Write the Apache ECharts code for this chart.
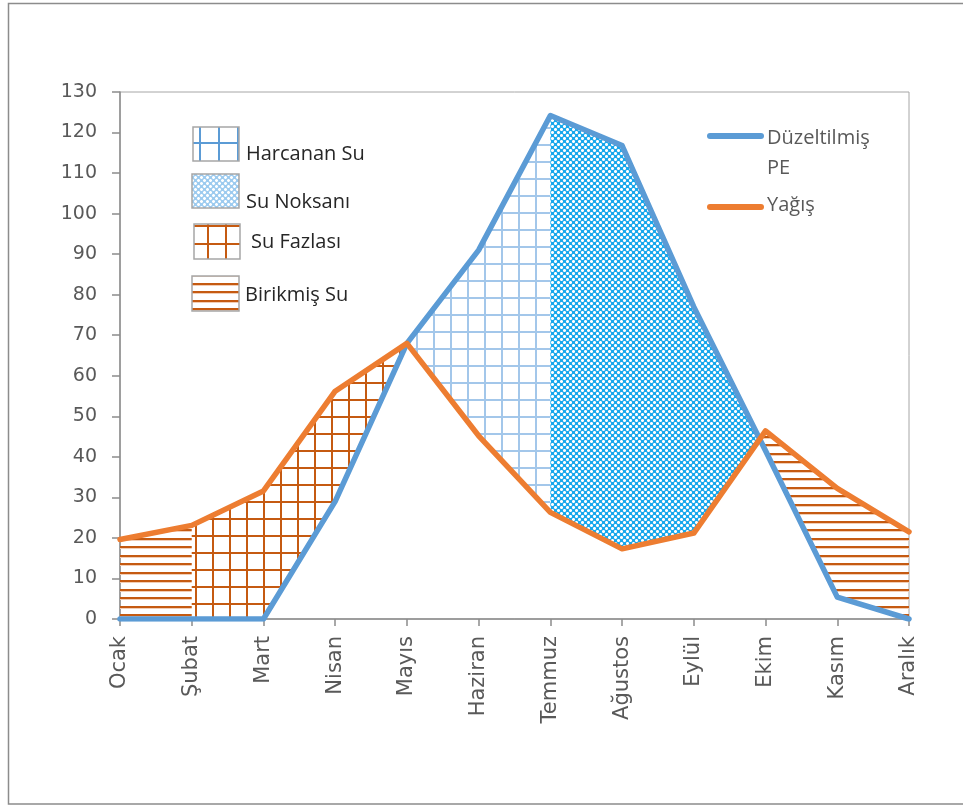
<!DOCTYPE html>
<html>
<head>
<meta charset="utf-8">
<script src="https://cdn.jsdelivr.net/npm/echarts@6/dist/echarts.min.js"></script>
<style>
  html, body { margin: 0; padding: 0; background: #fff; }
  #chart { width: 963px; height: 806px; }
</style>
</head>
<body>
<div id="chart"></div>
<script>
// Aylık su bilançosu: düzeltilmiş potansiyel evapotranspirasyon ve yağış (mm)
const aylar = ['Ocak', 'Şubat', 'Mart', 'Nisan', 'Mayıs', 'Haziran', 'Temmuz', 'Ağustos', 'Eylül', 'Ekim', 'Kasım', 'Aralık'];
const duzeltilmisPE = [0, 0, 0, 29, 68, 91, 124.2, 116.8, 77, 41.5, 5.4, 0];
const yagis = [19.6, 23.1, 31.6, 56.2, 68, 45.2, 26.3, 17.3, 21.2, 46.4, 32.2, 21.5];
const yEksenEtiketleri = [0, 10, 20, 30, 40, 50, 60, 70, 80, 90, 100, 110, 120, 130];

// Bölgeler: ay aralığı ve hangi eğrinin üstte kaldığı
const birikmisSuAraliklari = [[0, 1], [8, 11]];   // yağış > PE
const suFazlasiAraliklari = [[1, 4]];             // yağış > PE
const harcananSuAraliklari = [[4, 6]];            // PE > yağış
const suNoksaniAraliklari = [[6, 9]];             // PE > yağış

// ---- Desen dokuları ----
function tuval(w, h) {
  const c = document.createElement('canvas');
  c.width = w; c.height = h;
  return c;
}
function izgaraDeseni(adim, renk, kalinlik) {
  const c = tuval(adim, adim);
  const g = c.getContext('2d');
  g.fillStyle = renk;
  const o = Math.floor(adim / 2);
  g.fillRect(o, 0, kalinlik, adim);
  g.fillRect(0, o, adim, kalinlik);
  return c;
}
function yatayCizgiDeseni(renk, halo) {
  const c = tuval(4, 17);
  const g = c.getContext('2d');
  g.fillStyle = halo;
  g.fillRect(0, 4, 4, 1);
  g.fillRect(0, 13, 4, 1);
  g.fillStyle = renk;
  g.fillRect(0, 2, 4, 2);
  g.fillRect(0, 11, 4, 2);
  return c;
}
function noktaDeseni(koyu, acik) {
  const n = 6;
  const c = tuval(n, n);
  const g = c.getContext('2d');
  const merkezler = [[0, 0], [3, 3], [6, 0], [0, 6], [6, 6]];
  for (let y = 0; y < n; y++) {
    for (let x = 0; x < n; x++) {
      let renk = koyu;
      for (const [cx, cy] of merkezler) {
        const dx = Math.abs(x - cx), dy = Math.abs(y - cy);
        if (dx + dy <= 1) { renk = '#ffffff'; break; }
        if (dx === 1 && dy === 1) { renk = acik; }
      }
      g.fillStyle = renk;
      g.fillRect(x, y, 1, 1);
    }
  }
  return c;
}

const desenler = {
  harcanan: { image: izgaraDeseni(17, '#A3C7EA', 2), repeat: 'repeat' },
  noksan: { image: noktaDeseni('#17A8EC', '#A6DAF5'), repeat: 'repeat' },
  fazla: { image: izgaraDeseni(17, '#C55A11', 2), repeat: 'repeat' },
  birikmis: { image: yatayCizgiDeseni('#C55A11', '#F2CDB4'), repeat: 'repeat' }
};
const lejantDesenleri = {
  harcanan: { image: izgaraDeseni(19, '#5B9BD5', 2), repeat: 'repeat' },
  noksan: { image: noktaDeseni('#9DCBEF', '#CBE4F7'), repeat: 'repeat' },
  fazla: { image: izgaraDeseni(18, '#C55A11', 2), repeat: 'repeat' },
  birikmis: { image: yatayCizgiDeseni('#C55A11', '#F2CDB4'), repeat: 'repeat' }
};

// İki eğri arasında, üst eğrinin üstte kaldığı kısmı çokgen olarak çizer
function bolgeCiz(ust, alt, desen) {
  return function (params, api) {
    const s = api.value(0), e = api.value(1);
    const fark = i => ust[i] - alt[i];
    const xs = [];
    for (let i = s; i < e; i++) {
      const d0 = fark(i), d1 = fark(i + 1);
      if (d0 >= 0) xs.push(i);
      if ((d0 >= 0) !== (d1 >= 0) && d0 !== d1) xs.push(i + d0 / (d0 - d1));
    }
    if (fark(e) >= 0) xs.push(e);
    const deger = (arr, x) => {
      const i = Math.floor(x), f = x - i;
      return f ? arr[i] + (arr[i + 1] - arr[i]) * f : arr[i];
    };
    const nokta = (x, v) => {
      const i = Math.floor(x), f = x - i;
      const a = api.coord([i, v]);
      if (!f) return a;
      const b = api.coord([i + 1, v]);
      return [a[0] + (b[0] - a[0]) * f, a[1]];
    };
    const ustNoktalar = xs.map(x => nokta(x, deger(ust, x)));
    const altNoktalar = xs.map(x => nokta(x, deger(alt, x))).reverse();
    return {
      type: 'polygon',
      shape: { points: ustNoktalar.concat(altNoktalar) },
      style: { fill: desen, stroke: null }
    };
  };
}

function bolgeSerisi(ad, araliklar, ust, alt, desen) {
  return {
    name: ad,
    type: 'custom',
    coordinateSystem: 'cartesian2d',
    z: 1,
    silent: true,
    renderItem: bolgeCiz(ust, alt, desen),
    encode: { x: [0, 1] },
    data: araliklar
  };
}

const eksenRengi = '#8C8C8C';
const etiketRengi = '#595959';
const lejantYazi = { fontFamily: 'Open Sans', fontSize: 20, fill: '#262626', textVerticalAlign: 'middle' };
const lejantYazi2 = { fontFamily: 'Open Sans', fontSize: 20, fill: '#595959', textVerticalAlign: 'middle' };

const chart = echarts.init(document.getElementById('chart'));
chart.setOption({
  animation: false,
  backgroundColor: '#ffffff',
  grid: {
    left: 120, right: 54, top: 92, bottom: 187,
    show: true, borderColor: '#A6A6A6', borderWidth: 1
  },
  xAxis: {
    type: 'category',
    data: aylar,
    boundaryGap: false,
    axisLine: { lineStyle: { color: eksenRengi, width: 1.5 } },
    axisTick: { length: 7, lineStyle: { color: eksenRengi, width: 1.5 } },
    axisLabel: {
      rotate: 90, margin: 17, interval: 0,
      color: etiketRengi, fontFamily: 'DejaVu Sans', fontSize: 21
    },
    splitLine: { show: false }
  },
  yAxis: {
    type: 'value',
    min: yEksenEtiketleri[0],
    max: yEksenEtiketleri[yEksenEtiketleri.length - 1],
    interval: 10,
    axisLine: { show: true, lineStyle: { color: eksenRengi, width: 1.5 } },
    axisTick: { show: true, length: 8, lineStyle: { color: eksenRengi, width: 1.5 } },
    axisLabel: { margin: 23, color: etiketRengi, fontFamily: 'DejaVu Sans', fontSize: 19 },
    splitLine: { show: false }
  },
  series: [
    bolgeSerisi('Birikmiş Su', birikmisSuAraliklari, yagis, duzeltilmisPE, desenler.birikmis),
    bolgeSerisi('Su Fazlası', suFazlasiAraliklari, yagis, duzeltilmisPE, desenler.fazla),
    bolgeSerisi('Harcanan Su', harcananSuAraliklari, duzeltilmisPE, yagis, desenler.harcanan),
    bolgeSerisi('Su Noksanı', suNoksaniAraliklari, duzeltilmisPE, yagis, desenler.noksan),
    {
      name: 'Düzeltilmiş PE',
      type: 'line',
      data: duzeltilmisPE,
      symbol: 'none',
      z: 3,
      lineStyle: { color: '#5B9BD5', width: 5.5, cap: 'round', join: 'round' }
    },
    {
      name: 'Yağış',
      type: 'line',
      data: yagis,
      symbol: 'none',
      z: 4,
      lineStyle: { color: '#ED7D31', width: 5.5, cap: 'round', join: 'round' }
    }
  ],
  graphic: [
    // dış çerçeve
    { type: 'rect', z: -1, silent: true,
      shape: { x: 8.5, y: 3.5, width: 970, height: 800.5 },
      style: { fill: null, stroke: '#8C8C8C', lineWidth: 1.5 } },

    // desen lejantı
    { type: 'rect', shape: { x: 193, y: 127, width: 46, height: 34 },
      style: { fill: lejantDesenleri.harcanan, stroke: '#A6A6A6', lineWidth: 1.5 } },
    { type: 'text', x: 246, y: 154, style: Object.assign({ text: 'Harcanan Su' }, lejantYazi) },

    { type: 'rect', shape: { x: 192, y: 174, width: 47, height: 34 },
      style: { fill: lejantDesenleri.noksan, stroke: '#A6A6A6', lineWidth: 1.5 } },
    { type: 'text', x: 246, y: 202, style: Object.assign({ text: 'Su Noksanı' }, lejantYazi) },

    { type: 'rect', shape: { x: 194, y: 224, width: 46, height: 35 },
      style: { fill: lejantDesenleri.fazla, stroke: '#A6A6A6', lineWidth: 1.5 } },
    { type: 'text', x: 251, y: 242, style: Object.assign({ text: 'Su Fazlası' }, lejantYazi) },

    { type: 'rect', shape: { x: 192, y: 276, width: 47, height: 35 },
      style: { fill: lejantDesenleri.birikmis, stroke: '#A6A6A6', lineWidth: 1.5 } },
    { type: 'text', x: 245, y: 295, style: Object.assign({ text: 'Birikmiş Su' }, lejantYazi) },

    // çizgi lejantı
    { type: 'line', shape: { x1: 710, y1: 136, x2: 761, y2: 136 },
      style: { stroke: '#5B9BD5', lineWidth: 6, lineCap: 'round' } },
    { type: 'text', x: 767, y: 138, style: Object.assign({ text: 'Düzeltilmiş' }, lejantYazi2) },
    { type: 'text', x: 767, y: 168, style: Object.assign({ text: 'PE' }, lejantYazi2) },
    { type: 'line', shape: { x1: 710, y1: 207, x2: 761, y2: 207 },
      style: { stroke: '#ED7D31', lineWidth: 6, lineCap: 'round' } },
    { type: 'text', x: 767, y: 205, style: Object.assign({ text: 'Yağış' }, lejantYazi2) }
  ]
});
</script>
</body>
</html>
